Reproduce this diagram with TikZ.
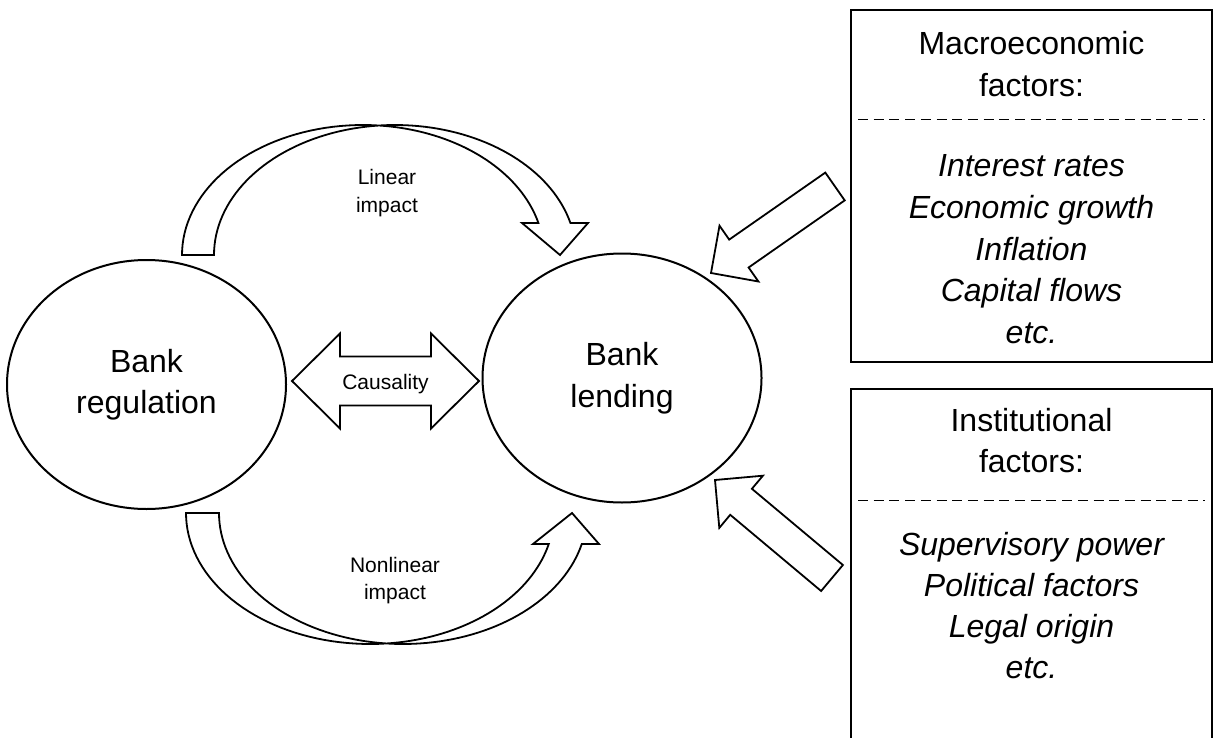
\documentclass[tikz,border=0pt]{standalone}
\usepackage{fontspec}
\setmainfont{Liberation Sans}
\usetikzlibrary{shapes.geometric}

\newcommand{\bigtext}{\fontsize{32}{41.5}\selectfont}
\newcommand{\smalltext}{\fontsize{21}{28}\selectfont}

\begin{document}
\begin{tikzpicture}[x=1pt, y=1pt, yscale=-1, line width=2pt,
		bubble/.style={ellipse, draw, minimum width=279pt, minimum height=249pt, align=center, font=\bigtext},
		factorbox/.style={rectangle, draw, minimum width=361pt, inner sep=0pt},
		heading/.style={anchor=base, font=\bigtext},
		item/.style={anchor=base, font=\bigtext\itshape},
		tag/.style={anchor=base, font=\smalltext},
		blockarrow/.style={draw, line width=1.8pt, line join=miter, samples=40},
		separator/.style={line width=1pt, dash pattern=on 10pt off 5.7pt}]
	\clip (0,0) rectangle (1214,738);
	
	%the two sides
	\node[bubble] (regulation) at (146.5,384.5) {Bank\\regulation};
	\node[bubble] (lending) at (622,378) {Bank\\lending};
	
	%causality both ways
	\draw[blockarrow] (292,381) -- (340,333.5) -- (340,356.5) -- (431,356.5) -- (431,333.5)
		-- (479,381) -- (431,428.5) -- (431,405.5) -- (340,405.5) -- (340,428.5) -- cycle;
	\node[tag] (causality) at (385.5,389) {Causality};
	
	%linear impact, over the top
	\draw[blockarrow] (182,255)
		-- plot[domain=180:275] ({363+181*cos(\x)},{255+130*sin(\x)})
		-- plot[domain=265:345.75] ({395+181*cos(\x)},{255+130*sin(\x)})
		-- (588,223) -- (560,255) -- (522,223)
		-- plot[domain=345.75:275] ({363+181*cos(\x)},{255+130*sin(\x)})
		-- plot[domain=265:180] ({395+181*cos(\x)},{255+130*sin(\x)})
		-- cycle;
	\node[tag] (linear1) at (387,184) {Linear};
	\node[tag] (linear2) at (387,212) {impact};
	
	%nonlinear impact, underneath
	\draw[blockarrow] (186,513)
		-- plot[domain=180:84.9] ({370+184*cos(\x)},{513+131*sin(\x)})
		-- plot[domain=95.1:13.7] ({403+184*cos(\x)},{513+131*sin(\x)})
		-- (599,544) -- (572,513) -- (533,544)
		-- plot[domain=13.7:84.9] ({370+184*cos(\x)},{513+131*sin(\x)})
		-- plot[domain=95.1:180] ({403+184*cos(\x)},{513+131*sin(\x)})
		-- cycle;
	\node[tag] (nonlinear1) at (395,572) {Nonlinear};
	\node[tag] (nonlinear2) at (395,599) {impact};
	
	%macroeconomic factors
	\node[factorbox, minimum height=352pt] (macro) at (1031.5,186) {};
	\foreach \t [count=\i] in {Macroeconomic, factors:}
		\node[heading] (macrohead\i) at (1031.5, 13.5+41.5*\i) {\t};
	\draw[separator] (858,120) -- (1205,120);
	\foreach \t [count=\i] in {Interest rates, Economic growth, Inflation, Capital flows, etc.}
		\node[item] (macroitem\i) at (1031.5, 135.5+41.5*\i) {\t};
	\draw[blockarrow] (711,273) -- (719.5,225.7) -- (729.2,239.6) -- (825.3,172.6)
		-- (844.7,200.4) -- (748.6,267.5) -- (758.4,281.5) -- cycle;
	
	%institutional factors
	\node[factorbox, minimum height=360pt] (inst) at (1031.5,569) {};
	\foreach \t [count=\i] in {Institutional, factors:}
		\node[heading] (insthead\i) at (1031.5, 390.5+41*\i) {\t};
	\draw[separator] (858,500) -- (1205,500);
	\foreach \t [count=\i] in {Supervisory power, Political factors, Legal origin, etc.}
		\node[item] (institem\i) at (1031.5, 514+41*\i) {\t};
	\draw[blockarrow] (715,480) -- (762.9,475.7) -- (751.9,488.8) -- (842.9,565)
		-- (821.1,591) -- (730.2,514.8) -- (719.3,527.9) -- cycle;
\end{tikzpicture}
\end{document}
